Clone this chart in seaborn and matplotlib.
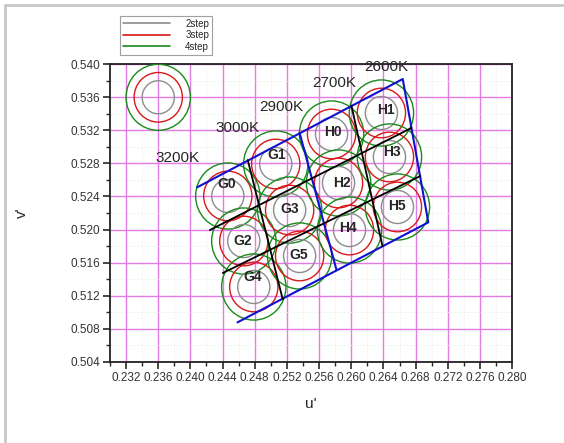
import numpy as np
import seaborn as sns
import matplotlib
matplotlib.use("Agg")
import matplotlib.pyplot as plt
from matplotlib.patches import Circle, Rectangle
from matplotlib.lines import Line2D
from matplotlib.ticker import MultipleLocator, FormatStrFormatter

# bin names and centres (u', v')
bins = ["G0", "G1", "G2", "G3", "G4", "G5", "H0", "H1", "H2", "H3", "H4", "H5"]
center_u = [0.24465, 0.25061, 0.24664, 0.25234, 0.24788, 0.25358,
            0.25755, 0.26375, 0.25842, 0.26475, 0.25978, 0.26574]
center_v = [0.52406, 0.52793, 0.51861, 0.52236, 0.51305, 0.51680,
            0.53156, 0.53410, 0.52563, 0.52878, 0.51994, 0.52273]
label_u = [0.24453, 0.25073, 0.24651, 0.25234, 0.24775, 0.25346,
           0.25768, 0.26425, 0.25879, 0.26500, 0.25954, 0.26574]
label_v = [0.52551, 0.52902, 0.51861, 0.52248, 0.51426, 0.51692,
           0.53180, 0.53446, 0.52563, 0.52938, 0.52018, 0.52285]

# step circles
steps = ["2step", "3step", "4step"]
step_radius = [0.0020, 0.0030, 0.0040]
step_colors = ["#8c8c8c", "#d81818", "#1a8a1a"]
sample_u, sample_v = 0.236, 0.536

# quadrangle outline and divisions
quad_u = [0.24084, 0.26640, 0.26958, 0.24585, 0.24084]
quad_v = [0.52511, 0.53821, 0.52087, 0.50877, 0.52511]
mid_u = [0.25358, 0.25817]
mid_v = [0.53168, 0.51510]
div_lines_u = [[0.24713, 0.25147], [0.26003, 0.26388],
               [0.24242, 0.26748], [0.24403, 0.26859]]
div_lines_v = [[0.52841, 0.51159], [0.53495, 0.51800],
               [0.51994, 0.53229], [0.51474, 0.52648]]

# CCT labels
cct_text = ["3200K", "3000K", "2900K", "2700K", "2600K"]
cct_u = [0.23845, 0.24589, 0.25135, 0.25792, 0.26437]
cct_v = [0.52865, 0.53229, 0.53483, 0.53773, 0.53967]

sns.set_style("ticks")
plt.rcParams['font.family'] = ['Liberation Sans', 'DejaVu Sans']

fig = plt.figure(figsize=(5.64, 4.43), dpi=100)
ax = fig.add_axes([0.195, 0.1833, 0.713, 0.6717])

fig.patches.append(Rectangle((0.009, -0.1), 1.2, 1.088, transform=fig.transFigure,
                             fill=False, edgecolor="#c8c8c8", linewidth=2))

ax.set_xlim(0.230, 0.280)
ax.set_ylim(0.504, 0.540)
ax.xaxis.set_major_locator(MultipleLocator(0.004))
ax.xaxis.set_minor_locator(MultipleLocator(0.002))
ax.yaxis.set_major_locator(MultipleLocator(0.004))
ax.yaxis.set_minor_locator(MultipleLocator(0.002))
ax.xaxis.set_major_formatter(FormatStrFormatter("%.3f"))
ax.yaxis.set_major_formatter(FormatStrFormatter("%.3f"))
ax.set_xticks(np.arange(0.232, 0.2801, 0.004))

ax.grid(which="major", color="#e27ae8", linewidth=1.0)
ax.grid(which="minor", color="#e4f2e4", linewidth=0.6, linestyle=(0, (2, 2)))
ax.set_axisbelow(True)

ax.tick_params(which="major", direction="out", length=5, width=1.2,
               labelsize=8.5, labelcolor="#333333", pad=2)
ax.tick_params(which="minor", direction="out", length=3, width=1.0)
for s in ax.spines.values():
    s.set_linewidth(1.3)
    s.set_color("#222222")

# circles around every bin centre and the sample circle
for u, v in zip(center_u + [sample_u], center_v + [sample_v]):
    for r, c in zip(step_radius, step_colors):
        ax.add_patch(Circle((u, v), r, fill=False, edgecolor=c, linewidth=1.0, zorder=3))

sns.lineplot(x=quad_u, y=quad_v, sort=False, color="#1010d0", linewidth=1.5,
             ax=ax, zorder=4)
sns.lineplot(x=mid_u, y=mid_v, sort=False, color="#1010d0", linewidth=1.5,
             ax=ax, zorder=4)
for lu, lv in zip(div_lines_u, div_lines_v):
    sns.lineplot(x=lu, y=lv, sort=False, color="black", linewidth=1.3,
                 ax=ax, zorder=4)

for name, u, v in zip(bins, label_u, label_v):
    ax.text(u, v, name, ha="center", va="center", fontsize=10,
            fontweight="bold", zorder=5)
for t, u, v in zip(cct_text, cct_u, cct_v):
    ax.text(u, v, t, ha="center", va="center", fontsize=11, zorder=5)

ax.set_xlabel("u'", fontsize=11, labelpad=10)
ax.set_ylabel("v'", fontsize=11, labelpad=30)

handles = [Line2D([], [], color=c, linewidth=1.2) for c in step_colors]
leg = fig.legend(handles, steps, loc="upper left", bbox_to_anchor=(0.213, 0.964),
                 borderaxespad=0, fontsize=7, frameon=True, fancybox=False,
                 handlelength=4.8, handletextpad=1.6, labelspacing=0.15,
                 borderpad=0.3)
leg.get_frame().set_edgecolor("#888888")
leg.get_frame().set_linewidth(0.8)

fig.savefig("out.png", dpi=100)
